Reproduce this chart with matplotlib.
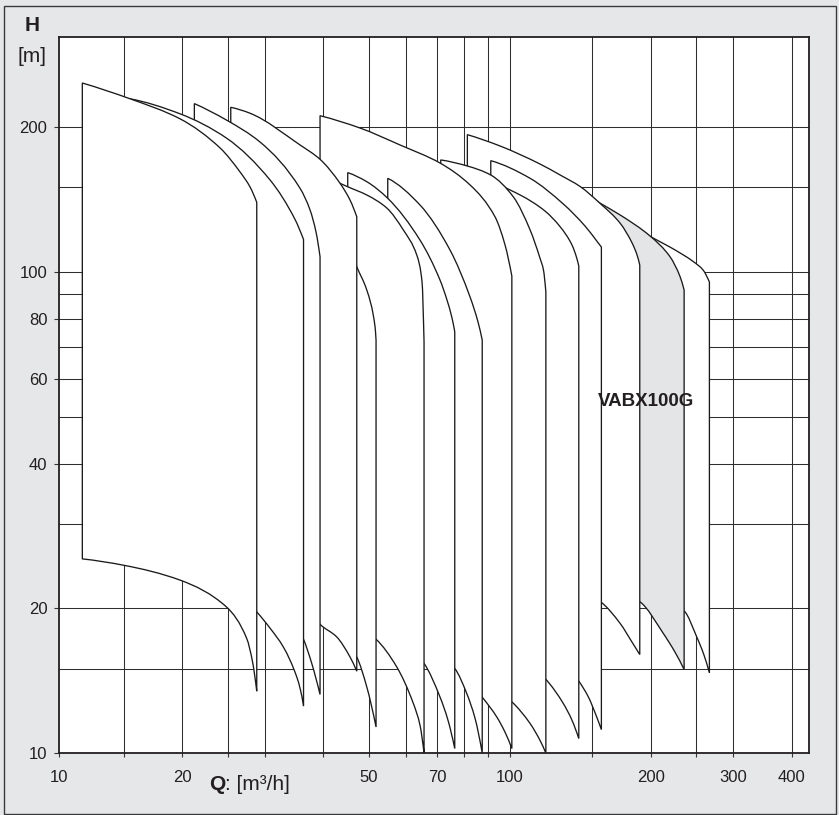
import matplotlib
matplotlib.use("Agg")
import numpy as np
import matplotlib.pyplot as plt
from matplotlib.patches import PathPatch, Rectangle
from matplotlib.path import Path
from matplotlib.ticker import FixedLocator, FixedFormatter, NullLocator, NullFormatter

plt.rcParams['font.family'] = ['Liberation Sans', 'DejaVu Sans']

# ---------------- axis data ----------------
x_min, x_max = 10.93, 435.0
y_min, y_max = 10.0, 307.5
x_grid = [15, 20, 25, 30, 40, 50, 60, 70, 80, 90, 100, 150, 200, 250, 300, 400]
y_grid = [15, 20, 30, 40, 50, 60, 70, 80, 90, 100, 150, 200]
x_tick_pos = [x_min, 20, 50, 70, 100, 200, 300, 400]
x_tick_lbl = ['10', '20', '50', '70', '100', '200', '300', '400']
y_tick_pos = [10, 20, 40, 60, 80, 100, 200]
y_tick_lbl = ['10', '20', '40', '60', '80', '100', '200']

# ---------------- pump envelopes (Q [m3/h], H [m]) ----------------
m01_top_q = [12.24, 15.40, 19.82, 24.09, 26.58, 27.92, 28.85]
m01_top_h = [247.1, 229.5, 208.0, 181.1, 161.4, 150.2, 139.6]
m01_bot_q = [12.24, 14.97, 19.82, 24.85, 27.47, 28.27, 28.85]
m01_bot_h = [25.35, 24.60, 22.89, 20.15, 17.31, 15.46, 13.46]

m02_top_q = [15.40, 19.82, 24.85, 30.81, 34.83, 36.31]
m02_top_h = [229.3, 213.1, 189.9, 155.3, 128.6, 116.9]
m02_bot_q = [15.40, 21.83, 26.58, 28.85, 30.81, 32.88, 35.12, 35.78, 36.31]
m02_bot_h = [26.68, 24.02, 21.30, 19.67, 18.19, 16.63, 14.41, 13.52, 12.53]

m03_top_q = [21.23, 24.85, 29.32, 35.69, 37.49, 38.61, 39.38]
m03_top_h = [223.9, 207.0, 186.3, 149.3, 134.6, 121.1, 107.6]
m03_bot_q = [21.23, 27.92, 33.98, 36.31, 37.81, 39.38]
m03_bot_h = [26.43, 22.89, 19.64, 17.26, 15.37, 13.25]

m04_top_q = [25.39, 27.92, 35.69, 39.38, 43.45, 45.64, 47.17]
m04_top_h = [220.0, 213.8, 183.7, 171.5, 152.9, 141.1, 130.3]
m04_bot_q = [25.39, 32.35, 37.49, 39.38, 42.75, 45.64, 47.17]
m04_bot_h = [25.19, 22.35, 19.83, 18.54, 17.45, 15.85, 14.81]

m05_top_q = [30.06, 39.38, 44.54, 47.17, 49.55, 51.61, 51.86]
m05_top_h = [179.4, 144.6, 119.4, 102.6, 91.76, 76.94, 72.22]
m05_bot_q = [30.06, 39.38, 44.54, 47.17, 49.55, 51.86]
m05_bot_h = [23.45, 19.36, 17.18, 15.85, 13.74, 11.34]

m06_top_q = [35.69, 43.45, 45.12, 49.55, 54.66, 59.31, 63.35, 65.02, 65.66]
m06_top_h = [166.9, 152.9, 150.4, 144.6, 135.9, 122.3, 108.5, 95.33, 71.63]
m06_bot_q = [35.69, 43.45, 47.17, 51.86, 57.41, 62.30, 64.38, 65.66]
m06_bot_h = [22.03, 19.83, 18.45, 17.26, 15.12, 12.69, 11.43, 10.01]

m07_top_q = [45.12, 49.55, 54.93, 64.38, 71.02, 73.51, 75.34, 76.36]
m07_top_h = [160.9, 154.1, 142.3, 116.5, 96.25, 87.46, 80.24, 75.14]
m07_bot_q = [45.12, 51.86, 58.35, 65.66, 71.02, 73.87, 76.36]
m07_bot_h = [20.02, 18.45, 17.18, 15.37, 13.09, 11.71, 10.23]

m08_top_q = [54.93, 64.38, 74.61, 82.33, 85.62, 87.40]
m08_top_h = [156.6, 137.8, 111.1, 88.74, 78.72, 72.22]
m08_bot_q = [54.93, 65.66, 76.36, 81.00, 84.37, 87.40]
m08_bot_h = [18.19, 16.77, 15.00, 13.31, 11.82, 10.01]

m09_top_q = [39.38, 47.94, 58.35, 71.02, 82.33, 93.10, 97.78, 101.1]
m09_top_h = [211.3, 199.2, 183.7, 168.5, 151.7, 130.2, 113.8, 98.10]
m09_bot_q = [39.38, 52.89, 67.62, 78.37, 87.33, 93.87, 97.78, 101.1]
m09_bot_h = [20.80, 18.45, 16.37, 14.74, 13.09, 11.90, 11.06, 10.23]

m10_top_q = [71.27, 81.24, 91.15, 101.9, 110.6, 116.1, 118.1, 119.5]
m10_top_h = [171.0, 166.1, 159.1, 143.2, 122.3, 106.9, 101.0, 90.88]
m10_bot_q = [71.27, 87.33, 101.1, 110.6, 116.1, 119.5]
m10_bot_h = [16.53, 14.19, 12.79, 11.53, 10.64, 10.01]

m11_top_q = [86.47, 105.3, 119.0, 128.2, 135.9, 139.1, 140.5]
m11_top_h = [156.8, 144.6, 133.9, 124.2, 113.8, 106.9, 102.9]
m11_bot_q = [86.47, 101.1, 110.6, 119.6, 130.2, 135.9, 140.5]
m11_bot_h = [17.18, 15.98, 15.24, 14.23, 12.69, 11.71, 10.73]

m12_top_q = [91.15, 110.6, 130.2, 144.9, 153.5, 157.0]
m12_top_h = [170.4, 156.6, 138.5, 124.6, 116.0, 112.7]
m12_bot_q = [91.15, 105.3, 119.6, 130.2, 140.5, 147.3, 152.9, 157.0]
m12_bot_h = [18.03, 17.18, 16.37, 15.39, 14.12, 13.09, 12.00, 11.20]

m13_top_q = [81.24, 95.41, 116.1, 128.2, 141.4, 156.0, 172.2, 182.6, 187.1, 189.6]
m13_top_h = [193.0, 182.8, 167.7, 159.1, 150.6, 138.9, 126.3, 114.9, 108.5, 103.4]
m13_bot_q = [81.24, 95.41, 119.6, 140.5, 156.5, 172.2, 182.6, 189.6]
m13_bot_h = [25.80, 24.60, 22.89, 21.83, 20.63, 18.61, 17.01, 16.04]

m14_top_q = [105.3, 128.2, 141.4, 154.5, 172.2, 199.5, 220.0, 231.2, 235.8]
m14_top_h = [166.9, 154.6, 147.4, 139.8, 131.4, 118.8, 107.6, 97.78, 91.76]
m14_bot_q = [105.3, 141.4, 172.2, 189.9, 212.9, 225.5, 235.8]
m14_bot_h = [25.19, 22.89, 21.62, 20.63, 17.74, 16.22, 14.93]

m15_top_q = [128.2, 156.0, 180.8, 199.5, 220.0, 246.8, 258.8, 267.0]
m15_top_h = [148.1, 135.9, 125.8, 118.6, 112.7, 105.1, 101.0, 95.33]
m15_bot_q = [128.2, 156.0, 189.9, 212.9, 235.8, 250.9, 260.1, 267.0]
m15_bot_h = [22.56, 21.83, 21.20, 20.80, 19.76, 17.45, 15.98, 14.69]

highlight_label = 'VABX100G'
highlight_index = 13          # 0-based index of the shaded envelope (m14)
label_q, label_h = 195.5, 53.9

envelopes = [
    (m01_top_q, m01_top_h, m01_bot_q, m01_bot_h),
    (m02_top_q, m02_top_h, m02_bot_q, m02_bot_h),
    (m03_top_q, m03_top_h, m03_bot_q, m03_bot_h),
    (m04_top_q, m04_top_h, m04_bot_q, m04_bot_h),
    (m05_top_q, m05_top_h, m05_bot_q, m05_bot_h),
    (m06_top_q, m06_top_h, m06_bot_q, m06_bot_h),
    (m07_top_q, m07_top_h, m07_bot_q, m07_bot_h),
    (m08_top_q, m08_top_h, m08_bot_q, m08_bot_h),
    (m09_top_q, m09_top_h, m09_bot_q, m09_bot_h),
    (m10_top_q, m10_top_h, m10_bot_q, m10_bot_h),
    (m11_top_q, m11_top_h, m11_bot_q, m11_bot_h),
    (m12_top_q, m12_top_h, m12_bot_q, m12_bot_h),
    (m13_top_q, m13_top_h, m13_bot_q, m13_bot_h),
    (m14_top_q, m14_top_h, m14_bot_q, m14_bot_h),
    (m15_top_q, m15_top_h, m15_bot_q, m15_bot_h),
]


# ---------------- smooth Bezier segments through the read points ----------------
def _slopes(x, y):
    h = np.diff(x)
    d = np.diff(y) / h
    n = len(x)
    m = np.zeros(n)
    if n == 2:
        m[:] = d[0]
        return m
    for k in range(1, n - 1):
        if d[k - 1] * d[k] <= 0:
            m[k] = 0.0
        else:
            w1 = 2 * h[k] + h[k - 1]
            w2 = h[k] + 2 * h[k - 1]
            m[k] = (w1 + w2) / (w1 / d[k - 1] + w2 / d[k])

    def edge(h0, h1, d0, d1):
        v = ((2 * h0 + h1) * d0 - h0 * d1) / (h0 + h1)
        if np.sign(v) != np.sign(d0):
            v = 0.0
        elif np.sign(d0) != np.sign(d1) and abs(v) > 3 * abs(d0):
            v = 3 * d0
        return v

    m[0] = edge(h[0], h[1], d[0], d[1])
    m[-1] = edge(h[-1], h[-2], d[-1], d[-2])
    return m


def bezier_segments(q, hv):
    """Cubic Bezier segments (in data units) of a monotone curve through (q, hv) on log-log axes."""
    x = np.log10(np.asarray(q, float))
    y = np.log10(np.asarray(hv, float))
    m = _slopes(x, y)
    segs = []
    for k in range(len(x) - 1):
        dx = x[k + 1] - x[k]
        c1 = (x[k] + dx / 3, y[k] + m[k] * dx / 3)
        c2 = (x[k + 1] - dx / 3, y[k + 1] - m[k + 1] * dx / 3)
        p0 = (x[k], y[k])
        p3 = (x[k + 1], y[k + 1])
        segs.append([tuple(10 ** np.array(p)) for p in (p0, c1, c2, p3)])
    return segs


def envelope_path(tq, th, bq, bh):
    verts, codes = [], []
    top = bezier_segments(tq, th)
    bot = bezier_segments(bq, bh)
    verts.append(top[0][0]); codes.append(Path.MOVETO)
    for s in top:
        verts += [s[1], s[2], s[3]]; codes += [Path.CURVE4] * 3
    verts.append(bot[-1][3]); codes.append(Path.LINETO)
    for s in reversed(bot):
        verts += [s[2], s[1], s[0]]; codes += [Path.CURVE4] * 3
    verts.append(top[0][0]); codes.append(Path.LINETO)
    verts.append(top[0][0]); codes.append(Path.CLOSEPOLY)
    return Path(verts, codes)


# ---------------- figure ----------------
W, H = 839, 815
BG = '#E6E7E8'
INK = '#231F20'
fig = plt.figure(figsize=(W / 100, H / 100), dpi=100)
fig.patch.set_facecolor(BG)
fig.patches.append(Rectangle((3.5 / W, 1 - 813.5 / H), (835.5 - 3.5) / W, (813.5 - 6) / H,
                             transform=fig.transFigure, fill=False, edgecolor='#3a3a3a',
                             linewidth=1.0, zorder=0))

ax_l, ax_r, ax_t, ax_b = 59.3, 808.7, 37.3, 753.3
ax = fig.add_axes([ax_l / W, 1 - ax_b / H, (ax_r - ax_l) / W, (ax_b - ax_t) / H])
ax.set_facecolor('white')
ax.set_xscale('log')
ax.set_yscale('log')
ax.set_xlim(x_min, x_max)
ax.set_ylim(y_min, y_max)

for q in x_grid:
    ax.axvline(q, color='#2e2e2e', lw=0.75, zorder=0.5)
for h in y_grid:
    ax.axhline(h, color='#2e2e2e', lw=0.75, zorder=0.5)

# envelopes: the one with the smallest Q_max lies on top
order = sorted(range(len(envelopes)), key=lambda i: -envelopes[i][0][-1])
for z, i in enumerate(order):
    tq, th, bq, bh = envelopes[i]
    fc = '#E4E5E6' if i == highlight_index else 'white'
    ax.add_patch(PathPatch(envelope_path(tq, th, bq, bh), facecolor=fc, edgecolor='#1a1a1a',
                           linewidth=0.95, joinstyle='miter', zorder=2 + z))

ax.text(label_q, label_h, highlight_label, ha='center', va='center',
        fontsize=13.5, fontweight='bold', color=INK, zorder=40)

for s in ax.spines.values():
    s.set_linewidth(1.3)
    s.set_color(INK)
    s.set_zorder(50)

ax.xaxis.set_major_locator(FixedLocator(x_tick_pos))
ax.xaxis.set_major_formatter(FixedFormatter(x_tick_lbl))
ax.xaxis.set_minor_locator(FixedLocator([q for q in x_grid if q not in x_tick_pos]))
ax.xaxis.set_minor_formatter(NullFormatter())
ax.yaxis.set_major_locator(FixedLocator(y_tick_pos))
ax.yaxis.set_major_formatter(FixedFormatter(y_tick_lbl))
ax.yaxis.set_minor_locator(NullLocator())
ax.yaxis.set_minor_formatter(NullFormatter())
ax.tick_params(axis='x', which='both', direction='out', length=3, width=0.8, color='#333333',
               labelsize=12, labelcolor=INK, pad=9)
ax.tick_params(axis='y', which='major', direction='out', length=3.5, width=0.8, color='#333333',
               labelsize=12, labelcolor=INK, pad=5)

# axis titles
fig.text(32 / W, 1 - 30.7 / H, 'H', ha='center', va='baseline', fontsize=15,
         fontweight='bold', color=INK)
fig.text(31.7 / W, 1 - 62.5 / H, '[m]', ha='center', va='baseline', fontsize=15, color=INK)
fig.text(225 / W, 1 - 790 / H, 'Q', ha='right', va='baseline', fontsize=15,
         fontweight='bold', color=INK)
fig.text(225 / W, 1 - 790 / H, ': [m\u00b3/h]', ha='left', va='baseline', fontsize=15, color=INK)

fig.savefig('out.png', dpi=100, facecolor=BG)
